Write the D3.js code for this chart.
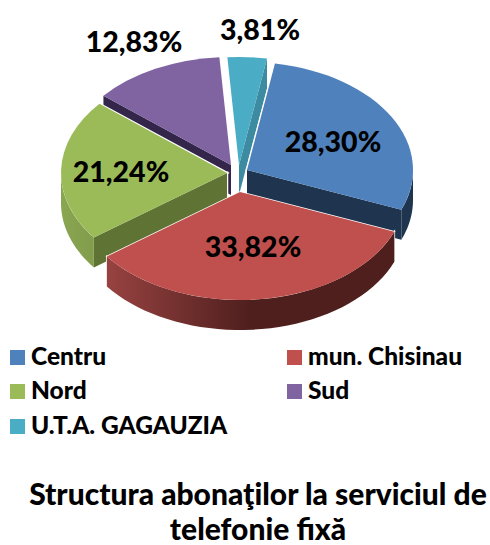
<!DOCTYPE html>
<html><head><meta charset="utf-8">
<script src="https://cdn.jsdelivr.net/npm/d3@7"></script>
<style>html,body{margin:0;padding:0;background:#fff}svg{display:block}text{font-family:Lato,sans-serif;font-weight:900;fill:#000}</style>
</head><body><svg id="c" width="490" height="545"></svg>
<script>
const categories = ["Centru","mun. Chisinau","Nord","Sud","U.T.A. GAGAUZIA"];
const values = [28.30,33.82,21.24,12.83,3.81];
const colors = ["#4f81bd","#c0504d","#9bbb59","#8064a2","#4bacc6"];
const cutColors = ["#1f344f","#4f1f1e","#5f7434","#33264a","#3d8ba0"];
const wallFrom = ["#1f344f","#964240","#8aa651","#33264a","#3d8ba0"];
const wallTo = ["#1f344f","#4f1f1e","#5f7434","#33264a","#3d8ba0"];
const apexX = [247,240,227,231,239];
const apexY = [170,192,173,165,165];
const labelX = [333,253,121,134,260];
const labelY = [152,257,182,52,40];
const drawOrder = [3,4,0,2,1];
const titleLines = ["Structura abonaţilor la serviciul de","telefonie fixă"];
const legendColX = [10,287];
const legendRowY = [350,384,419];

const rx=166, ry=108, depth=30, tau=Math.PI*2, startDeg=9.7;
const svg=d3.select("#c"), defs=svg.append("defs");
const arcs=d3.pie().sort(null).value(d=>d).startAngle(startDeg*Math.PI/180).endAngle(startDeg*Math.PI/180+tau)(values);
const arcGen=d3.arc().innerRadius(0).outerRadius(rx);
const pt=(i,a,dz=0)=>[apexX[i]+rx*Math.sin(a),apexY[i]-ry*Math.cos(a)+dz];
const line=d3.line();
arcs.forEach((d,i)=>{
  const g=defs.append("linearGradient").attr("id","w"+i).attr("gradientUnits","userSpaceOnUse")
    .attr("x1",apexX[i]-rx).attr("x2",i==1?apexX[i]+10:apexX[i]).attr("y1",0).attr("y2",0);
  g.append("stop").attr("offset",i==1?"0.2":"0").attr("stop-color",wallFrom[i]);
  g.append("stop").attr("offset","1").attr("stop-color",wallTo[i]);
});
drawOrder.forEach(i=>{
  const d=arcs[i], g=svg.append("g");
  const A=[apexX[i],apexY[i]];
  const cut=a=>{const p=pt(i,a);return line([A,p,[p[0],p[1]+depth],[A[0],A[1]+depth]])+"Z";};
  const parts=[];
  if(i===0||i===4) parts.push({d:cut(d.endAngle),fill:cutColors[i]});
  if(i===2||i===3) parts.push({d:cut(d.startAngle),fill:cutColors[i]});
  const s=Math.max(d.startAngle,Math.PI/2), e=Math.min(d.endAngle,3*Math.PI/2);
  if(e>s){
    const top=d3.range(0,41).map(k=>pt(i,s+(e-s)*k/40));
    const bot=top.slice().reverse().map(p=>[p[0],p[1]+depth]);
    parts.push({d:line(top.concat(bot))+"Z",fill:`url(#w${i})`});
  }
  const topT=`translate(${A[0]},${A[1]}) scale(1,${ry/rx})`;
  const sw=i==1?1.5:2.5;
  parts.forEach(p=>g.append("path").attr("d",p.d).attr("fill","#fff").attr("stroke","#fff").attr("stroke-width",sw));
  g.append("path").attr("d",arcGen(d)).attr("transform",topT).attr("fill","#fff").attr("stroke","#fff").attr("stroke-width",sw).attr("vector-effect","non-scaling-stroke");
  parts.forEach(p=>g.append("path").attr("d",p.d).attr("fill",p.fill));
  g.append("path").attr("d",arcGen(d)).attr("transform",topT).attr("fill",colors[i]);
});
values.forEach((v,i)=>{
  svg.append("text").attr("x",labelX[i]).attr("y",labelY[i]).attr("text-anchor","middle")
    .attr("font-size",28.5).text(d3.format(".2f")(v).replace(".",",")+"%");
});
categories.forEach((c,i)=>{
  const x=legendColX[i%2], y=legendRowY[Math.floor(i/2)];
  svg.append("rect").attr("x",x).attr("y",y).attr("width",15).attr("height",15).attr("fill",colors[i]);
  svg.append("text").attr("x",x+21).attr("y",y+14.5).attr("font-size",24.5).text(c);
});
titleLines.forEach((t,i)=>{
  svg.append("text").attr("x",258).attr("y",505+i*35).attr("text-anchor","middle").attr("font-size",30).text(t);
});
</script></body></html>
